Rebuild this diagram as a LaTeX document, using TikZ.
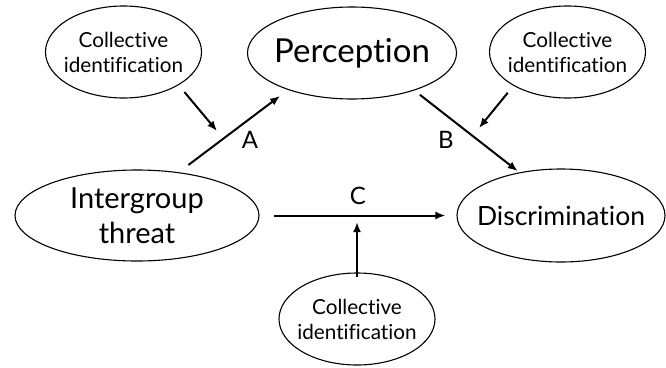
\documentclass[tikz,border=0pt]{standalone}
\usepackage{fontspec}
\setmainfont{Lato}[Ligatures=NoCommon]
\usetikzlibrary{shapes.geometric,arrows.meta}
\begin{document}
\begin{tikzpicture}[x=1pt,y=-1pt,
  oval/.style={draw=black,line width=1.1pt,ellipse,inner xsep=-40pt,inner ysep=-20pt,align=center},
  ci/.style={oval,minimum width=156pt,minimum height=92pt,font=\fontsize{20.7}{25}\selectfont},
  arr/.style={line width=2pt,-{Latex[length=10pt,width=8pt]}},
  lab/.style={font=\fontsize{24}{24}\selectfont,inner sep=0pt}]
\useasboundingbox (0,0) rectangle (666,367);
\node[ci] (ciA) at (123.5,52) {Collective\\identification};
\node[oval,minimum width=209pt,minimum height=92pt,font=\fontsize{33}{33}\selectfont] (perc) at (352,53) {Perception};
\node[ci] (ciB) at (567.5,52) {Collective\\identification};
\node[oval,minimum width=244pt,minimum height=91pt,font=\fontsize{29}{35}\selectfont] (it) at (137,215.5) {Intergroup\\threat};
\node[oval,minimum width=208pt,minimum height=93pt,font=\fontsize{26.5}{26.5}\selectfont] (disc) at (561,215.5) {Discrimination};
\node[ci] (ciC) at (357,319) {Collective\\identification};
\coordinate (mA) at (217,131);
\coordinate (mB) at (479,128);
\coordinate (mC) at (357,222);
\draw[arr,shorten <=12pt,shorten >=10pt] (it.46) -- (perc.210);
\draw[arr,shorten <=7pt,shorten >=2pt] (perc.-31) -- (disc.134);
\draw[arr,shorten <=14pt,shorten >=11pt] (it.east) -- (disc.west);
\draw[arr,shorten <=9pt] (ciA.-31.7) -- (mA);
\draw[arr,shorten <=9pt] (ciB.212.8) -- (mB);
\draw[arr,shorten <=-5pt] (ciC.north) -- (mC);
\node[lab] (la) at (250,140) {A};
\node[lab] (lb) at (446,140) {B};
\node[lab] (lc) at (358,196) {C};
\end{tikzpicture}
\end{document}
